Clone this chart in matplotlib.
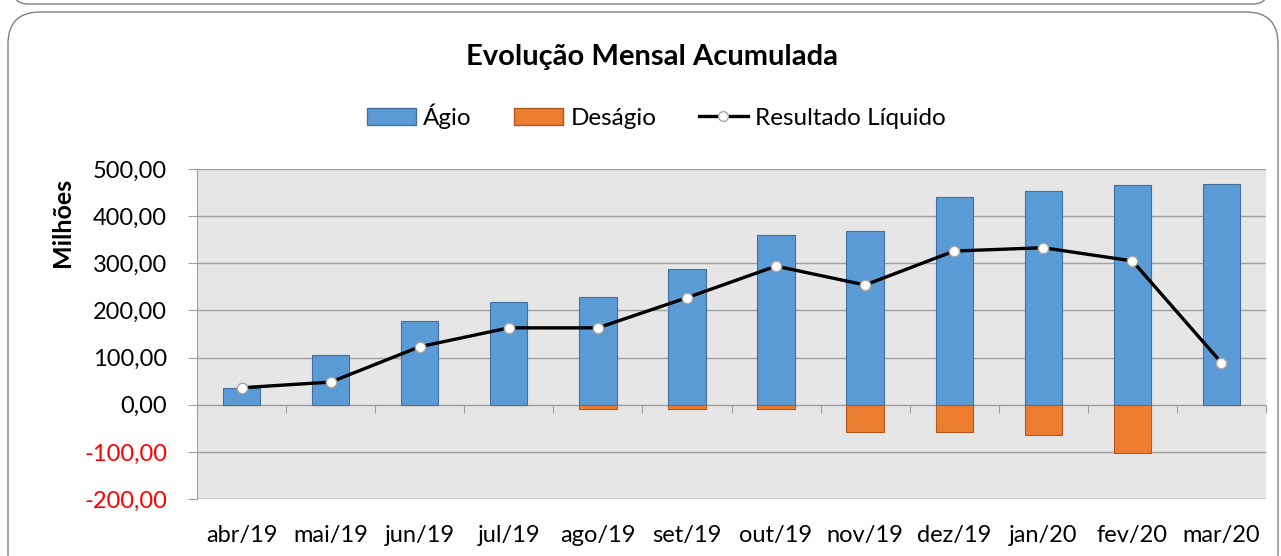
import numpy as np
import matplotlib; matplotlib.use('Agg')
import matplotlib.pyplot as plt
from matplotlib.patches import FancyBboxPatch
from matplotlib.lines import Line2D
from matplotlib.patches import Patch

plt.rcParams['font.family'] = ['Lato', 'DejaVu Sans']

meses = ['abr/19', 'mai/19', 'jun/19', 'jul/19', 'ago/19', 'set/19',
         'out/19', 'nov/19', 'dez/19', 'jan/20', 'fev/20', 'mar/20']
agio = [36, 105, 178, 218, 229, 288, 360, 369, 441, 453, 466, 468]
desagio = [0, 0, 0, -1, -9, -9, -9, -57, -57, -64, -102, 0]
resultado = [36, 48, 123, 163, 163, 227, 294, 254, 326, 333, 305, 89]
yticks = [-200, -100, 0, 100, 200, 300, 400, 500]

BLUE, BLUE_E = '#5B9BD5', '#41719C'
ORANGE, ORANGE_E = '#ED7D31', '#AE5A21'
FS = 17

fig = plt.figure(figsize=(12.81, 5.56), dpi=100)

# frames (rounded boxes like the Excel chart area)
fig.patches.append(FancyBboxPatch((0.13, 5.52), 12.55, 0.6,
                   boxstyle='round,pad=0,rounding_size=0.15', zorder=-10,
                   transform=fig.dpi_scale_trans, fc='white', ec='#808080', lw=1.0))
fig.patches.append(FancyBboxPatch((0.08, -0.3), 12.70, 5.74,
                   boxstyle='round,pad=0,rounding_size=0.32', zorder=-10,
                   transform=fig.dpi_scale_trans, fc='white', ec='#808080', lw=1.0))

ax = fig.add_axes([197 / 1281, 57 / 556, 1069 / 1281, 330 / 556])
ax.set_facecolor('#E6E6E6')

x = np.arange(len(meses))
ax.bar(x, agio, width=0.42, color=BLUE, edgecolor=BLUE_E, linewidth=0.8, zorder=3)
ax.bar(x, desagio, width=0.42, color=ORANGE, edgecolor=ORANGE_E, linewidth=0.8, zorder=3)
ax.plot(x, resultado, color='black', lw=2.4, marker='o', ms=7.5,
        mfc='white', mec='#A6A6A6', mew=1.0, zorder=4)

ax.set_xlim(-0.5, len(meses) - 0.5)
ax.set_ylim(-200, 500)
ax.set_yticks(yticks)
ax.yaxis.grid(True, color='#A0A0A0', lw=1.0, zorder=1)
ax.set_axisbelow(True)
ax.set_yticklabels([f'{v:.2f}'.replace('.', ',') for v in yticks], fontsize=FS)
for t, v in zip(ax.get_yticklabels(), yticks):
    t.set_color('red' if v < 0 else 'black')
ax.tick_params(axis='y', length=6.5, color='#A0A0A0', pad=15)

# x axis line at zero with ticks at category boundaries
ax.spines['bottom'].set_position(('data', 0))
ax.spines['bottom'].set_color('#A0A0A0')
ax.set_xticks(np.arange(len(meses) + 1) - 0.5)
ax.set_xticklabels([])
ax.tick_params(axis='x', length=6, color='#A0A0A0', direction='out')
ax.axhline(-200, color='#A0A0A0', lw=1.0, zorder=2)
for s in ['top', 'right']:
    ax.spines[s].set_visible(False)
ax.spines['left'].set_color('#A0A0A0')

sec = ax.secondary_xaxis(0)
sec.set_xticks(x)
sec.set_xticklabels(meses, fontsize=FS)
sec.tick_params(length=0, pad=19)
sec.spines['bottom'].set_visible(False)

fig.text(62 / 1281, 1 - 222 / 556, 'Milhões', rotation=90, ha='center', va='center',
         fontsize=18, fontweight='bold')

fig.text(0.509, 0.898, 'Evolução Mensal Acumulada', ha='center', va='center',
         fontsize=21, fontweight='bold')

handles = [Patch(facecolor=BLUE, edgecolor=BLUE_E, label='Ágio'),
           Patch(facecolor=ORANGE, edgecolor=ORANGE_E, label='Deságio'),
           Line2D([], [], color='black', lw=2.4, marker='o', ms=7, mfc='white',
                  mec='#A6A6A6', label='Resultado Líquido')]
fig.legend(handles=handles, loc='center', bbox_to_anchor=(0.5125, 0.791), ncol=3,
           frameon=False, fontsize=17.5, handlelength=2.0, handleheight=0.7,
           handletextpad=0.3, columnspacing=1.75)

fig.savefig('out.png', dpi=100)
